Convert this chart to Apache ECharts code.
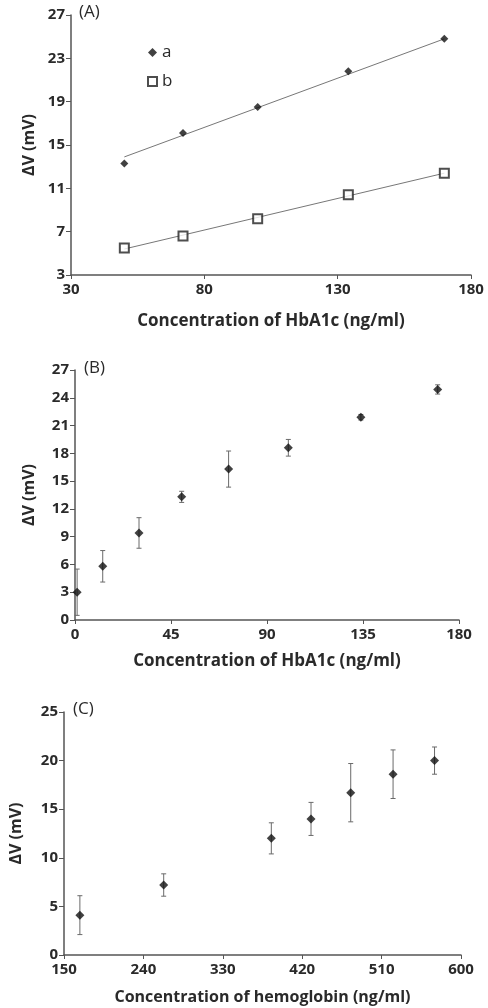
<!DOCTYPE html>
<html>
<head>
<meta charset="utf-8">
<script src="https://cdn.jsdelivr.net/npm/echarts@6/dist/echarts.min.js"></script>
<style>
html,body{margin:0;padding:0;background:#fff;}
#c{width:488px;height:1008px;}
</style>
</head>
<body>
<div id="c"></div>
<script>
// Panel A
const xA = [50, 72, 100, 134, 170];
const yA_a = [13.3, 16.1, 18.5, 21.8, 24.8];
const yA_b = [5.5, 6.6, 8.2, 10.4, 12.4];
const trendA_a = [[50, 13.9], [170, 24.8]];
const trendA_b = [[50, 5.4], [170, 12.4]];
// Panel B
const xB = [1, 13, 30, 50, 72, 100, 134, 170];
const yB = [3.0, 5.8, 9.4, 13.3, 16.3, 18.6, 21.9, 24.9];
const errB = [2.5, 1.7, 1.65, 0.6, 1.95, 0.9, 0.3, 0.5];
// Panel C
const xC = [168, 263, 385, 430, 475, 523, 570];
const yC = [4.1, 7.2, 12.0, 14.0, 16.7, 18.6, 20.0];
const errC = [2.0, 1.15, 1.6, 1.7, 3.0, 2.5, 1.4];

const FONT = '"Open Sans", sans-serif';
const TXT = '#2a2a2a';
const AX = '#555';

function pairs(xs, ys) { return xs.map((x, i) => [x, ys[i]]); }
function errData(xs, ys, es) { return xs.map((x, i) => [x, ys[i] - es[i], ys[i] + es[i]]); }

function errSeries(idx, data) {
  return {
    type: 'custom', xAxisIndex: idx, yAxisIndex: idx, silent: true, z: 2,
    data: data,
    renderItem: function (params, api) {
      const lo = api.coord([api.value(0), api.value(1)]);
      const hi = api.coord([api.value(0), api.value(2)]);
      const w = 2.5;
      const st = { stroke: '#6a6a6a', lineWidth: 1 };
      return {
        type: 'group', children: [
          { type: 'line', shape: { x1: lo[0], y1: lo[1], x2: hi[0], y2: hi[1] }, style: st },
          { type: 'line', shape: { x1: lo[0] - w, y1: lo[1], x2: lo[0] + w, y2: lo[1] }, style: st },
          { type: 'line', shape: { x1: hi[0] - w, y1: hi[1], x2: hi[0] + w, y2: hi[1] }, style: st }
        ]
      };
    }
  };
}

function xAxisCfg(idx, min, max, interval, name, gap, nameSize) {
  return {
    gridIndex: idx, type: 'value', min: min, max: max, interval: interval,
    name: name, nameLocation: 'middle', nameGap: gap,
    nameTextStyle: { fontFamily: FONT, fontWeight: 'bold', fontSize: nameSize, color: TXT },
    axisLine: { show: true, lineStyle: { color: AX, width: 1.5 } },
    axisTick: { show: true, length: 4, lineStyle: { color: AX } },
    axisLabel: { fontFamily: FONT, fontWeight: 'bold', fontSize: 15, color: TXT, margin: 7 },
    splitLine: { show: false }
  };
}
function yAxisCfg(idx, min, max, interval, gap) {
  return {
    gridIndex: idx, type: 'value', min: min, max: max, interval: interval,
    name: 'ΔV (mV)', nameLocation: 'middle', nameGap: gap, nameRotate: 90,
    nameTextStyle: { fontFamily: FONT, fontWeight: 'bold', fontSize: 16, color: TXT },
    axisLine: { show: true, lineStyle: { color: AX, width: 1.5 } },
    axisTick: { show: true, length: 5, lineStyle: { color: AX } },
    axisLabel: { fontFamily: FONT, fontWeight: 'bold', fontSize: 15, color: TXT, margin: 6 },
    splitLine: { show: false }
  };
}

const chart = echarts.init(document.getElementById('c'), null, { renderer: 'canvas' });
chart.setOption({
  backgroundColor: '#fff',
  animation: false,
  grid: [
    { left: 71, top: 15, width: 400, height: 260 },
    { left: 75, top: 370, width: 384, height: 250 },
    { left: 63, top: 712, width: 398, height: 243 }
  ],
  xAxis: [
    xAxisCfg(0, 30, 180, 50, 'Concentration of HbA1c (ng/ml)', 38, 17),
    xAxisCfg(1, 0, 180, 45, 'Concentration of HbA1c (ng/ml)', 33, 17),
    xAxisCfg(2, 150, 600, 90, 'Concentration of hemoglobin (ng/ml)', 34, 16)
  ],
  yAxis: [
    yAxisCfg(0, 3, 27, 4, 34),
    yAxisCfg(1, 0, 27, 3, 38),
    yAxisCfg(2, 0, 25, 5, 40)
  ],
  legend: {
    left: 142, top: 39, orient: 'vertical', itemWidth: 9, itemHeight: 9, itemGap: 12,
    textStyle: { fontFamily: FONT, fontSize: 17, color: TXT },
    data: [
      { name: 'a', icon: 'diamond' },
      { name: 'b', icon: 'rect' }
    ]
  },
  graphic: [
    { type: 'text', left: 79, top: 4, style: { text: '(A)', font: '17px "Open Sans", sans-serif', fill: TXT } },
    { type: 'text', left: 84, top: 360, style: { text: '(B)', font: '17px "Open Sans", sans-serif', fill: TXT } },
    { type: 'text', left: 73, top: 701, style: { text: '(C)', font: '17px "Open Sans", sans-serif', fill: TXT } }
  ],
  series: [
    { name: 'trend a', type: 'line', xAxisIndex: 0, yAxisIndex: 0, data: trendA_a, showSymbol: false, silent: true,
      lineStyle: { color: '#777', width: 1 }, z: 1 },
    { name: 'trend b', type: 'line', xAxisIndex: 0, yAxisIndex: 0, data: trendA_b, showSymbol: false, silent: true,
      lineStyle: { color: '#777', width: 1 }, z: 1 },
    { name: 'a', type: 'scatter', xAxisIndex: 0, yAxisIndex: 0, data: pairs(xA, yA_a), symbol: 'diamond', symbolSize: 8,
      itemStyle: { color: '#111' }, z: 3 },
    { name: 'b', type: 'scatter', xAxisIndex: 0, yAxisIndex: 0, data: pairs(xA, yA_b), symbol: 'rect', symbolSize: 9,
      itemStyle: { color: '#fff', borderColor: '#222', borderWidth: 2 }, z: 3 },
    errSeries(1, errData(xB, yB, errB)),
    { name: 'B', type: 'scatter', xAxisIndex: 1, yAxisIndex: 1, data: pairs(xB, yB), symbol: 'diamond', symbolSize: 9,
      itemStyle: { color: '#111' }, z: 3 },
    errSeries(2, errData(xC, yC, errC)),
    { name: 'C', type: 'scatter', xAxisIndex: 2, yAxisIndex: 2, data: pairs(xC, yC), symbol: 'diamond', symbolSize: 9,
      itemStyle: { color: '#111' }, z: 3 }
  ]
});
</script>
</body>
</html>
